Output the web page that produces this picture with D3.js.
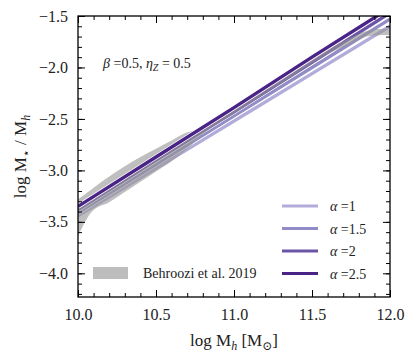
<!DOCTYPE html>
<html>
<head>
<meta charset="utf-8">
<script src="https://cdn.jsdelivr.net/npm/d3@7"></script>
<style>
  body { margin: 0; background: #fff; }
  svg text { font-family: "Liberation Serif", "DejaVu Serif", serif !important; fill: #222; }
</style>
</head>
<body>
<div id="vis"></div>
<script>
const FRAME_WIDTH = 415;
const FRAME_HEIGHT = 356;
const MARGINS = {left: 78, right: 25, top: 16, bottom: 59};
const VIS_WIDTH = FRAME_WIDTH - MARGINS.left - MARGINS.right;
const VIS_HEIGHT = FRAME_HEIGHT - MARGINS.top - MARGINS.bottom;
const SERIF = "Liberation Serif";

// model lines, log Mh vs log M*/Mh
const massX = [10.0, 10.5, 11.0, 11.5, 12.0];
const alpha1 = [-3.44, -2.98, -2.52, -2.06, -1.60];
const alpha15 = [-3.41, -2.94, -2.47, -2.00, -1.53];
const alpha2 = [-3.38, -2.90, -2.43, -1.95, -1.47];
const alpha25 = [-3.35, -2.87, -2.39, -1.90, -1.42];
const alphaNames = ["1", "1.5", "2", "2.5"];
const alphaColors = ["#b1acd9", "#928cc6", "#6c55a8", "#4a2386"];

// Behroozi et al. 2019 band
const bandX = [10.0, 10.09, 10.2, 10.3, 10.4, 10.5, 10.6, 10.7, 10.8, 11.0, 11.2, 11.4, 11.6, 11.75, 11.85, 11.95, 12.0];
const bandUpper = [-3.28, -3.18, -3.06, -2.96, -2.87, -2.79, -2.71, -2.63, -2.59, -2.41, -2.21, -2.02, -1.82, -1.71, -1.645, -1.625, -1.625];
const bandLower = [-3.64, -3.40, -3.31, -3.21, -3.11, -3.01, -2.91, -2.79, -2.65, -2.45, -2.25, -2.06, -1.87, -1.77, -1.70, -1.685, -1.685];

const xTicks = [10.0, 10.5, 11.0, 11.5, 12.0];
const yTicks = [-4.0, -3.5, -3.0, -2.5, -2.0, -1.5];

const svg = d3.select("#vis")
  .append("svg")
    .attr("width", FRAME_WIDTH)
    .attr("height", FRAME_HEIGHT)
    .attr("font-family", SERIF);

const X_SCALE = d3.scaleLinear().domain([10, 12]).range([0, VIS_WIDTH]);
const Y_SCALE = d3.scaleLinear().domain([-4.23, -1.5]).range([VIS_HEIGHT, 0]);

const g = svg.append("g")
  .attr("transform", "translate(" + MARGINS.left + "," + MARGINS.top + ")");

g.append("clipPath").attr("id", "clip")
  .append("rect").attr("width", VIS_WIDTH).attr("height", VIS_HEIGHT);

const plot = g.append("g").attr("clip-path", "url(#clip)");

const series = [alpha1, alpha15, alpha2, alpha25];
const line = d3.line().x(d => X_SCALE(d[0])).y(d => Y_SCALE(d[1]));
function drawLine(i) {
  const pts = massX.map((x, j) => [x, series[i][j]]);
  plot.append("path").datum(pts)
    .attr("fill", "none").attr("stroke", "#fff").attr("stroke-width", 4.8)
    .attr("d", line);
  plot.append("path").datum(pts)
    .attr("fill", "none").attr("stroke", alphaColors[i]).attr("stroke-width", 3.4)
    .attr("d", line);
}

// lower three lines, then the band, then the top line
[0, 1, 2].forEach(drawLine);

const bandData = bandX.map((x, i) => ({x: x, lo: bandLower[i], hi: bandUpper[i]}));
plot.append("path")
  .datum(bandData)
  .attr("fill", "#949494")
  .attr("fill-opacity", 0.6)
  .attr("d", d3.area()
    .curve(d3.curveMonotoneX)
    .x(d => X_SCALE(d.x))
    .y0(d => Y_SCALE(d.lo))
    .y1(d => Y_SCALE(d.hi)));

drawLine(3);

// axes with inward ticks on all four sides
const xMinor = d3.range(10.0, 12.001, 0.1);
const yMinor = d3.range(-4.2, -1.499, 0.1);

g.append("g").attr("transform", "translate(0," + VIS_HEIGHT + ")")
  .call(d3.axisBottom(X_SCALE).tickValues(xTicks).tickFormat(d3.format(".1f")).tickSizeInner(-7).tickSizeOuter(0).tickPadding(12))
  .call(a => a.select(".domain").remove())
  .attr("font-size", "16px");
g.append("g").attr("transform", "translate(0," + VIS_HEIGHT + ")")
  .call(d3.axisBottom(X_SCALE).tickValues(xMinor).tickFormat("").tickSizeInner(-4).tickSizeOuter(0))
  .call(a => a.select(".domain").remove());
g.append("g")
  .call(d3.axisTop(X_SCALE).tickValues(xTicks).tickFormat("").tickSizeInner(-7).tickSizeOuter(0))
  .call(a => a.select(".domain").remove());
g.append("g")
  .call(d3.axisTop(X_SCALE).tickValues(xMinor).tickFormat("").tickSizeInner(-4).tickSizeOuter(0))
  .call(a => a.select(".domain").remove());

g.append("g")
  .call(d3.axisLeft(Y_SCALE).tickValues(yTicks).tickFormat(d => "\u2212" + d3.format(".1f")(-d)).tickSizeInner(-7).tickSizeOuter(0).tickPadding(10))
  .call(a => a.select(".domain").remove())
  .attr("font-size", "16px");
g.append("g")
  .call(d3.axisLeft(Y_SCALE).tickValues(yMinor).tickFormat("").tickSizeInner(-4).tickSizeOuter(0))
  .call(a => a.select(".domain").remove());
g.append("g").attr("transform", "translate(" + VIS_WIDTH + ",0)")
  .call(d3.axisRight(Y_SCALE).tickValues(yTicks).tickFormat("").tickSizeInner(-7).tickSizeOuter(0))
  .call(a => a.select(".domain").remove());
g.append("g").attr("transform", "translate(" + VIS_WIDTH + ",0)")
  .call(d3.axisRight(Y_SCALE).tickValues(yMinor).tickFormat("").tickSizeInner(-4).tickSizeOuter(0))
  .call(a => a.select(".domain").remove());

g.selectAll("g").attr("font-family", SERIF);
g.selectAll(".tick line").attr("stroke", "#000").attr("stroke-width", 1);
g.selectAll(".tick text").attr("fill", "#222");

g.append("rect")
  .attr("width", VIS_WIDTH).attr("height", VIS_HEIGHT)
  .attr("fill", "none").attr("stroke", "#000").attr("stroke-width", 1.3);

// annotation
const note = g.append("text").attr("x", 25).attr("y", 52).attr("font-size", "14px");
note.append("tspan").attr("font-style", "italic").text("\u03b2");
note.append("tspan").text(" =0.5, ");
note.append("tspan").attr("font-style", "italic").text("\u03b7");
note.append("tspan").attr("font-style", "italic").attr("font-size", "10px").attr("dy", 3).text("Z");
note.append("tspan").attr("dy", -3).text(" = 0.5");

// legend: band
g.append("rect").attr("x", 15).attr("y", 251).attr("width", 35).attr("height", 12).attr("fill", "#bdbdbd");
g.append("text").attr("x", 65).attr("y", 262).attr("font-size", "14px").text("Behroozi et al. 2019");

// legend: lines
alphaNames.forEach((n, i) => {
  const y = 190 + i * 22.5;
  g.append("line").attr("x1", 204).attr("x2", 240).attr("y1", y).attr("y2", y)
    .attr("stroke", alphaColors[i]).attr("stroke-width", 3);
  const t = g.append("text").attr("x", 252).attr("y", y + 5).attr("font-size", "14px");
  t.append("tspan").attr("font-style", "italic").text("\u03b1");
  t.append("tspan").text(" =" + n);
});

// axis titles
const xl = svg.append("text").attr("x", MARGINS.left + VIS_WIDTH / 2).attr("y", 346)
  .attr("text-anchor", "middle").attr("font-size", "17px");
xl.append("tspan").text("log M");
xl.append("tspan").attr("font-style", "italic").attr("font-size", "12px").attr("dy", 4).text("h");
xl.append("tspan").attr("dy", -4).text(" [M");
xl.append("tspan").attr("font-size", "12px").attr("dy", 4).text("\u2299");
xl.append("tspan").attr("dy", -4).text("]");

const yl = svg.append("text").attr("transform", "translate(26," + (MARGINS.top + VIS_HEIGHT / 2) + ") rotate(-90)")
  .attr("text-anchor", "middle").attr("font-size", "17px");
yl.append("tspan").text("log M");
yl.append("tspan").attr("font-size", "12px").attr("dy", 4).text("\u22c6");
yl.append("tspan").attr("dy", -4).text(" / M");
yl.append("tspan").attr("font-style", "italic").attr("font-size", "12px").attr("dy", 4).text("h");
</script>
</body>
</html>
